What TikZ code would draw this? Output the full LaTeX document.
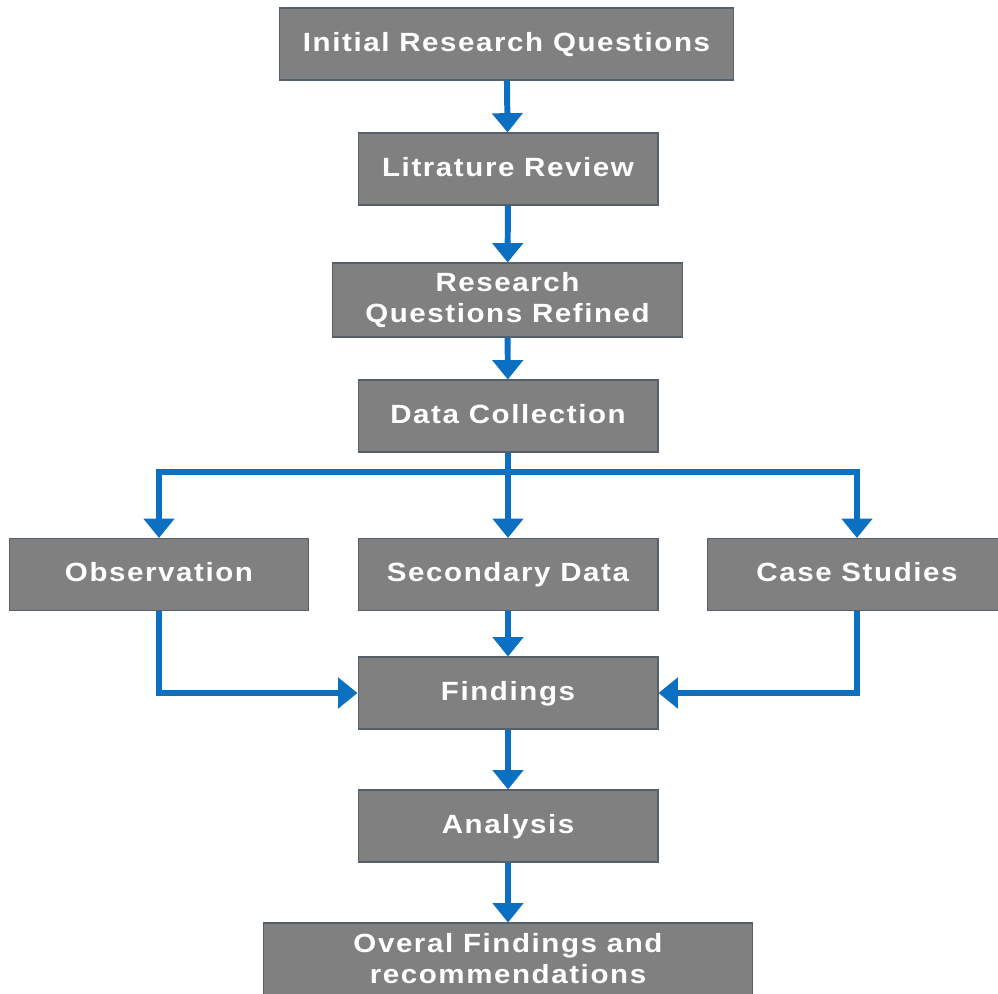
\documentclass[tikz,border=0pt]{standalone}
\usepackage{fontspec}
\setmainfont{Liberation Sans}[FakeStretch=1.12, LetterSpace=6]
\usetikzlibrary{arrows.meta,positioning}
\definecolor{boxgray}{HTML}{808080}
\definecolor{boxedge}{HTML}{55606A}
\definecolor{flowblue}{HTML}{0B6FC2}

\begin{document}
\begin{tikzpicture}[x=0.02cm, y=-0.02cm,
  >={Triangle[width=17pt,length=11pt]},
  stepbox/.style={draw=boxedge, fill=boxgray, line width=0.6pt,
    text=white, font=\fontsize{15}{17.6}\selectfont\bfseries,
    align=center, minimum width=6cm, minimum height=1.44cm,
    inner sep=0pt, text height=11pt, text depth=3pt},
  twoline/.style={text height=, text depth=},
  flow/.style={->, draw=flowblue, line width=3.4pt}]
  %% Frame (reference margins)
  \useasboundingbox (0,0) rectangle (998,994);

  %% Main column
  \node[stepbox, minimum width=9.1cm]  (init) at (506.5,44) {Initial Research Questions};
  \node[stepbox]                      (lit)  at (508,169)   {Litrature Review};
  \node[stepbox, twoline, minimum width=7.02cm, minimum height=1.48cm]
                                      (rqr)  at (507.5,300) {Research\\Questions Refined};
  \node[stepbox]                      (dc)   at (508,416)   {Data Collection};

  %% Three data sources
  \node[stepbox] (obs)  at (159,574.5) {Observation};
  \node[stepbox] (sec)  at (508,574.5) {Secondary Data};
  \node[stepbox] (case) at (857,574.5) {Case Studies};

  %% Lower column
  \node[stepbox] (find) at (508,693) {Findings};
  \node[stepbox] (ana)  at (508,826) {Analysis};
  \node[stepbox, twoline, minimum width=9.8cm] (over) at (508,959)
    {Overal Findings and\\recommendations};

  %% Connectors down the column
  \draw[flow] (init) -- (lit);
  \draw[flow] (lit) -- (rqr);
  \draw[flow] (rqr) -- (dc);

  %% Branching from data collection
  \coordinate (split) at (508,472);
  \draw[flow] (dc) -- (sec);
  \draw[flow, line width=3pt] (split) -| (obs);
  \draw[flow, line width=3pt] (split) -| (case);

  %% Merging into findings
  \draw[flow] (sec) -- (find);
  \draw[flow] (obs) |- (find);
  \draw[flow] (case) |- (find);

  \draw[flow] (find) -- (ana);
  \draw[flow] (ana) -- (over);
\end{tikzpicture}
\end{document}
